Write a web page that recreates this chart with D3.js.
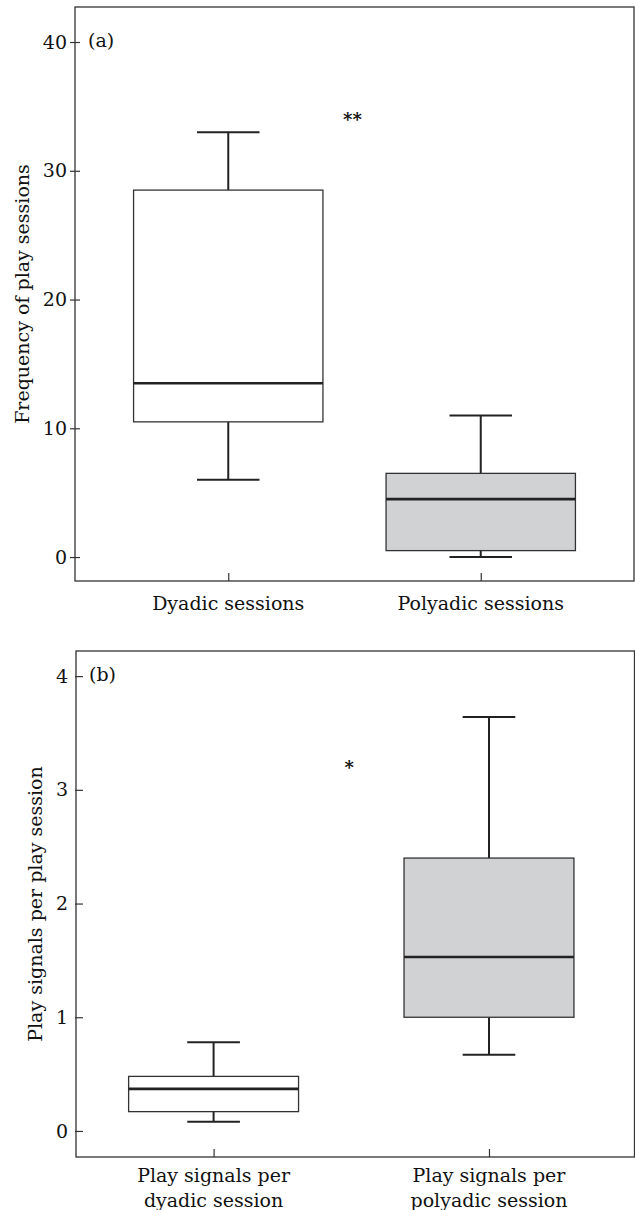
<!DOCTYPE html>
<html>
<head>
<meta charset="utf-8">
<script src="https://cdn.jsdelivr.net/npm/d3@7"></script>
<style>
  body { margin: 0; background: #fff; }
  svg text { font-family: "DejaVu Serif", serif; fill: #111; }
</style>
</head>
<body>
<svg id="chart" width="635" height="1210"></svg>
<script>
// ---- data ----
// panel (a)
const catsA = ["Dyadic sessions", "Polyadic sessions"];
const minA = [6, 0];
const q1A = [10.5, 0.5];
const medA = [13.5, 4.5];
const q3A = [28.5, 6.5];
const maxA = [33, 11];
const ticksA = [0, 10, 20, 30, 40];
const sigA = {text: "**", y: 34.2};

// panel (b)
const catsB = [["Play signals per", "dyadic session"], ["Play signals per", "polyadic session"]];
const minB = [0.08, 0.67];
const q1B = [0.17, 1.0];
const medB = [0.37, 1.53];
const q3B = [0.48, 2.40];
const maxB = [0.78, 3.64];
const ticksB = [0, 1, 2, 3, 4];
const sigB = {text: "*", y: 3.22};

const fills = ["#ffffff", "#d1d2d4"];
const FS = 19;

const svg = d3.select('#chart');

function panel(opt) {
    const g = svg.append('g');

    const x = d3.scalePoint()
        .domain(d3.range(opt.cats.length))
        .range([opt.left, opt.right])
        .padding(opt.pad)
        .align(opt.align);
    const y = d3.scaleLinear()
        .domain(opt.yDomain)
        .range([opt.bottom, opt.top]);

    const boxW = x.step() * opt.boxFrac;
    const capW = boxW * opt.capFrac;

    // frame
    g.append('rect')
        .attr('x', opt.left).attr('y', opt.top)
        .attr('width', opt.right - opt.left).attr('height', opt.bottom - opt.top)
        .attr('fill', 'none').attr('stroke', '#333').attr('stroke-width', 1.3);

    // y axis
    const yAxis = g.append('g')
        .attr('transform', `translate(${opt.left},0)`)
        .call(d3.axisLeft(y).tickValues(opt.ticks).tickFormat(d3.format('d'))
            .tickSizeInner(opt.yTickOut).tickSizeOuter(0).tickPadding(opt.yTickPad));
    yAxis.select('.domain').remove();
    yAxis.selectAll('.tick line').attr('x2', -opt.yTickOut).attr('x1', opt.yTickIn).attr('stroke', '#333').attr('stroke-width', 1.2);
    yAxis.selectAll('.tick text').attr('font-size', FS).attr('font-family', '"DejaVu Serif", serif').attr('fill', '#111');

    // x axis ticks (inward)
    const xAxis = g.append('g')
        .attr('transform', `translate(0,${opt.bottom})`)
        .call(d3.axisBottom(x).tickSizeInner(-8).tickSizeOuter(0).tickFormat(''));
    xAxis.select('.domain').remove();
    xAxis.selectAll('.tick line').attr('stroke', '#333').attr('stroke-width', 1.2);

    const idx = d3.range(opt.cats.length);

    // whiskers
    g.selectAll('.whisk-hi').data(idx).enter().append('line')
        .attr('x1', i => x(i)).attr('x2', i => x(i))
        .attr('y1', i => y(opt.q3[i])).attr('y2', i => y(opt.max[i]))
        .attr('stroke', '#222').attr('stroke-width', 2);
    g.selectAll('.whisk-lo').data(idx).enter().append('line')
        .attr('x1', i => x(i)).attr('x2', i => x(i))
        .attr('y1', i => y(opt.q1[i])).attr('y2', i => y(opt.min[i]))
        .attr('stroke', '#222').attr('stroke-width', 2);
    // caps
    g.selectAll('.cap-hi').data(idx).enter().append('line')
        .attr('x1', i => x(i) - capW / 2).attr('x2', i => x(i) + capW / 2)
        .attr('y1', i => y(opt.max[i])).attr('y2', i => y(opt.max[i]))
        .attr('stroke', '#222').attr('stroke-width', 2);
    g.selectAll('.cap-lo').data(idx).enter().append('line')
        .attr('x1', i => x(i) - capW / 2).attr('x2', i => x(i) + capW / 2)
        .attr('y1', i => y(opt.min[i])).attr('y2', i => y(opt.min[i]))
        .attr('stroke', '#222').attr('stroke-width', 2);

    // boxes
    g.selectAll('.box').data(idx).enter().append('rect')
        .attr('x', i => x(i) - boxW / 2)
        .attr('y', i => y(opt.q3[i]))
        .attr('width', boxW)
        .attr('height', i => y(opt.q1[i]) - y(opt.q3[i]))
        .attr('fill', i => fills[i])
        .attr('stroke', '#333').attr('stroke-width', 1.3);

    // medians
    g.selectAll('.med').data(idx).enter().append('line')
        .attr('x1', i => x(i) - boxW / 2).attr('x2', i => x(i) + boxW / 2)
        .attr('y1', i => y(opt.med[i])).attr('y2', i => y(opt.med[i]))
        .attr('stroke', '#222').attr('stroke-width', 2.6);

    // category labels
    const lab = g.selectAll('.xlab').data(idx).enter().append('text')
        .attr('text-anchor', 'middle')
        .attr('font-size', FS)
        .attr('x', i => x(i))
        .attr('y', opt.bottom + opt.labOffset);
    lab.each(function(i) {
        const lines = [].concat(opt.cats[i]);
        d3.select(this).selectAll('tspan').data(lines).enter().append('tspan')
            .attr('x', x(i))
            .attr('dy', (d, k) => k === 0 ? 0 : 25)
            .text(d => d);
    });

    // y title
    g.append('text')
        .attr('transform', `translate(${opt.titleX},${(opt.top + opt.bottom) / 2}) rotate(-90)`)
        .attr('text-anchor', 'middle')
        .attr('font-size', FS)
        .text(opt.title);

    // panel letter
    g.append('text')
        .attr('x', opt.left + 13)
        .attr('y', y(opt.ticks[opt.ticks.length - 1]) + 5)
        .attr('font-size', FS)
        .text(opt.letter);

    // significance marker
    g.append('text')
        .attr('x', (x(0) + x(1)) / 2 - 2)
        .attr('y', y(opt.sig.y) + 9)
        .attr('text-anchor', 'middle')
        .attr('font-family', '"DejaVu Sans", sans-serif')
        .attr('font-weight', 'bold')
        .attr('font-size', 18)
        .text(opt.sig.text);
}

panel({
    cats: catsA, min: minA, q1: q1A, med: medA, q3: q3A, max: maxA,
    ticks: ticksA, sig: sigA, letter: '(a)', title: 'Frequency of play sessions',
    left: 75, right: 634, top: 7, bottom: 581,
    yDomain: [-1.86, 42.72],
    pad: 0.607, align: 0.5, boxFrac: 0.75, capFrac: 0.33,
    yTickOut: 5, yTickIn: 5, yTickPad: 3,
    labOffset: 29, titleX: 29
});

panel({
    cats: catsB, min: minB, q1: q1B, med: medB, q3: q3B, max: maxB,
    ticks: ticksB, sig: sigB, letter: '(b)', title: 'Play signals per play session',
    left: 76, right: 634.5, top: 651, bottom: 1157,
    yDomain: [-0.229, 4.221],
    pad: 0.514, align: 0.486, boxFrac: 0.617, capFrac: 0.31,
    yTickOut: 1, yTickIn: 7, yTickPad: 7,
    labOffset: 25, titleX: 42
});
</script>
</body>
</html>
